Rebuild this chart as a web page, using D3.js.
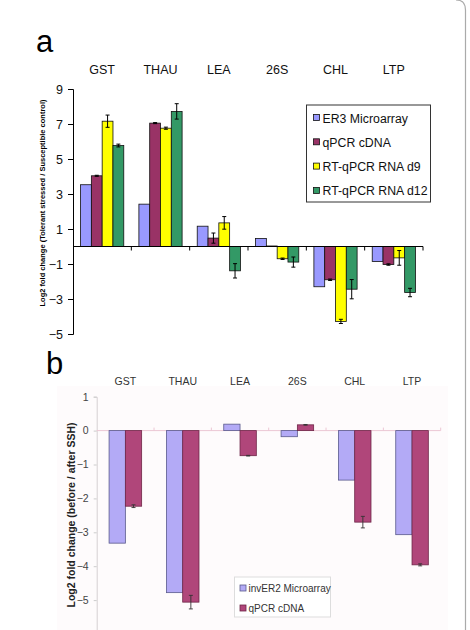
<!DOCTYPE html>
<html>
<head>
<meta charset="utf-8">
<script src="https://cdn.jsdelivr.net/npm/d3@7"></script>
<style>
  body { margin: 0; background: #fff; }
  svg { display: block; font-family: "Liberation Sans", Arial, sans-serif; }
</style>
</head>
<body>
<div id="chart"></div>
<script>
// panel a data
const genesA = ["GST", "THAU", "LEA", "26S", "CHL", "LTP"];
const seriesA = ["ER3 Microarray", "qPCR cDNA", "RT-qPCR RNA d9", "RT-qPCR RNA d12"];
const er3Micro = [3.53, 2.42, 1.16, 0.46, -2.30, -0.86];
const qpcrCdnaA = [4.04, 7.05, 0.48, 0.03, -1.90, -1.03];
const rnaD9 = [7.16, 6.76, 1.35, -0.70, -4.28, -0.65];
const rnaD12 = [5.77, 7.72, -1.39, -0.89, -2.44, -2.63];
const errQpcrA = [0.03, 0.03, 0.29, 0, 0.04, 0.04];
const errD9 = [0.35, 0.06, 0.36, 0.04, 0.12, 0.42];
const errD12 = [0.08, 0.44, 0.41, 0.29, 0.55, 0.24];
const ticksA = [9, 7, 5, 3, 1, -1, -3, -5];

// panel b data
const genesB = ["GST", "THAU", "LEA", "26S", "CHL", "LTP"];
const seriesB = ["invER2 Microarray", "qPCR cDNA"];
const invER2Micro = [-3.32, -4.78, 0.19, -0.18, -1.46, -3.07];
const qpcrCdnaB = [-2.23, -5.06, -0.74, 0.17, -2.70, -3.96];
const errQpcrB = [0.04, 0.2, 0.01, 0.01, 0.17, 0.03];
const ticksB = [1, 0, -1, -2, -3, -4, -5];

const svg = d3.select("#chart").append("svg")
  .attr("width", 470).attr("height", 630);

// figure frame edge on the right
svg.append("path")
  .attr("d", "M456,0 Q465.5,0 465.5,10 V630")
  .attr("fill", "none").attr("stroke", "#aaa").attr("stroke-width", 1.2);

// ---------- panel a ----------
const valsA = [er3Micro, qpcrCdnaA, rnaD9, rnaD12];
const errsA = [null, errQpcrA, errD9, errD12];
const colorsA = ["#9999ff", "#993366", "#ffff00", "#339966"];

const x0a = d3.scaleBand().domain(genesA).range([73, 423]);
const x1a = d3.scaleBand().domain(seriesA).range([0, x0a.bandwidth()]).paddingOuter(0.7);
const ya = d3.scaleLinear().domain([-5, 9]).range([334, 89]);

svg.append("text").attr("x", 36).attr("y", 52)
  .style("font-size", "31px").text("a");

svg.append("g").selectAll("text").data(genesA).join("text")
  .attr("x", d => x0a(d) + x0a.bandwidth() / 2).attr("y", 74)
  .attr("text-anchor", "middle").style("font-size", "12.5px").attr("fill", "#111")
  .text(d => d);

const gA = svg.append("g");
seriesA.forEach((s, si) => {
  gA.append("g").selectAll("rect").data(genesA).join("rect")
    .attr("x", g => x0a(g) + x1a(s))
    .attr("width", x1a.bandwidth())
    .attr("y", (g, i) => ya(Math.max(0, valsA[si][i])))
    .attr("height", (g, i) => Math.abs(ya(valsA[si][i]) - ya(0)))
    .attr("fill", colorsA[si]).attr("stroke", "#111").attr("stroke-width", 0.8);
  if (errsA[si]) {
    genesA.forEach((g, i) => {
      const e = errsA[si][i];
      if (!e) return;
      const cx = x0a(g) + x1a(s) + x1a.bandwidth() / 2;
      const v = valsA[si][i];
      gA.append("path")
        .attr("d", `M${cx - 2},${ya(v + e)}H${cx + 2}M${cx},${ya(v + e)}V${ya(v - e)}M${cx - 2},${ya(v - e)}H${cx + 2}`)
        .attr("stroke", "#000").attr("stroke-width", 1).attr("fill", "none");
    });
  }
});

// y axis a
const axA = svg.append("g").attr("transform", "translate(73,0)")
  .call(d3.axisLeft(ya).tickValues(ticksA).tickSize(5).tickPadding(5).tickFormat(d3.format("d")));
axA.select(".domain").attr("stroke", "#000");
axA.selectAll("line").attr("stroke", "#000");
axA.selectAll("text").style("font-size", "12.5px").attr("fill", "#111").style("font-family", "Liberation Sans, Arial");
// zero line a
svg.append("line").attr("x1", 73).attr("x2", 423).attr("y1", ya(0)).attr("y2", ya(0))
  .attr("stroke", "#000");
svg.append("g").selectAll("line").data(genesA).join("line")
  .attr("x1", d => x0a(d) + x0a.bandwidth()).attr("x2", d => x0a(d) + x0a.bandwidth())
  .attr("y1", ya(0)).attr("y2", ya(0) + 4).attr("stroke", "#000");

svg.append("text")
  .attr("transform", `translate(45,203) rotate(-90)`)
  .attr("text-anchor", "middle").style("font-size", "7.5px").style("font-weight", "bold")
  .text("Log2 fold change (Tolerant stressed / Susceptible control)");

// legend a
const legA = svg.append("g");
legA.append("rect").attr("x", 306.5).attr("y", 105).attr("width", 124).attr("height", 97)
  .attr("fill", "#fff").attr("stroke", "#333").attr("stroke-width", 1);
seriesA.forEach((s, i) => {
  const y = 118 + i * 24.3;
  legA.append("rect").attr("x", 313.5).attr("y", y - 3.5).attr("width", 6).attr("height", 6)
    .attr("fill", colorsA[i]).attr("stroke", "#111").attr("stroke-width", 0.8);
  legA.append("text").attr("x", 322.5).attr("y", y + 4.5)
    .style("font-size", "12.3px").attr("fill", "#111").text(s);
});

// ---------- panel b ----------
const valsB = [invER2Micro, qpcrCdnaB];
const errsB = [null, errQpcrB];
const colorsB = ["#b3aaf6", "#b0467a"];
const strokesB = ["#5a5a8c", "#6e2547"];

svg.append("rect").attr("x", 57).attr("y", 386).attr("width", 391).attr("height", 244)
  .attr("fill", "#fefbfc");

const x0b = d3.scaleBand().domain(genesB).range([96.7, 440.7]);
const x1b = d3.scaleBand().domain(seriesB).range([0, x0b.bandwidth()]).paddingOuter(0.76);
const yb = d3.scaleLinear().domain([-6, 1]).range([634, 396.7]);

svg.append("text").attr("x", 46).attr("y", 374)
  .style("font-size", "31px").text("b");

svg.append("g").selectAll("text").data(genesB).join("text")
  .attr("x", d => x0b(d) + x0b.bandwidth() / 2).attr("y", 385)
  .attr("text-anchor", "middle").style("font-size", "10.5px").attr("fill", "#333")
  .text(d => d);

// y axis b
const axB = svg.append("g").attr("transform", "translate(96.7,0)")
  .call(d3.axisLeft(yb).tickValues(ticksB).tickSize(3).tickPadding(5).tickFormat(d3.format("d")));
axB.select(".domain").attr("stroke", "#d6d0d3");
axB.selectAll("line").attr("stroke", "#ccc");
axB.selectAll("text").style("font-size", "10.5px").attr("fill", "#444").style("font-family", "Liberation Sans, Arial");

// zero line b
svg.append("line").attr("x1", 96.7).attr("x2", 440.7).attr("y1", yb(0)).attr("y2", yb(0))
  .attr("stroke", "#ecc7d4");
svg.append("g").selectAll("line").data(genesB).join("line")
  .attr("x1", d => x0b(d) + x0b.bandwidth()).attr("x2", d => x0b(d) + x0b.bandwidth())
  .attr("y1", yb(0)).attr("y2", yb(0) - 3).attr("stroke", "#ecc7d4");

const gB = svg.append("g");
seriesB.forEach((s, si) => {
  gB.append("g").selectAll("rect").data(genesB).join("rect")
    .attr("x", g => x0b(g) + x1b(s))
    .attr("width", x1b.bandwidth())
    .attr("y", (g, i) => yb(Math.max(0, valsB[si][i])))
    .attr("height", (g, i) => Math.abs(yb(valsB[si][i]) - yb(0)))
    .attr("fill", colorsB[si]).attr("stroke", strokesB[si]).attr("stroke-width", 0.8);
  if (errsB[si]) {
    genesB.forEach((g, i) => {
      const e = errsB[si][i];
      const cx = x0b(g) + x1b(s) + x1b.bandwidth() / 2;
      const v = valsB[si][i];
      gB.append("path")
        .attr("d", `M${cx - 2},${yb(v + e)}H${cx + 2}M${cx},${yb(v + e)}V${yb(v - e)}M${cx - 2},${yb(v - e)}H${cx + 2}`)
        .attr("stroke", "#333").attr("stroke-width", 0.9).attr("fill", "none");
    });
  }
});

svg.append("text")
  .attr("transform", `translate(75,515) rotate(-90)`)
  .attr("text-anchor", "middle").style("font-size", "10.5px").style("font-weight", "bold")
  .attr("fill", "#222")
  .text("Log2 fold change (before / after SSH)");

// legend b
const legB = svg.append("g");
legB.append("rect").attr("x", 234.5).attr("y", 577).attr("width", 96).attr("height", 40)
  .attr("fill", "#fff").attr("stroke", "#ddd").attr("stroke-width", 1);
seriesB.forEach((s, i) => {
  const y = 588 + i * 20;
  legB.append("rect").attr("x", 240).attr("y", y - 3).attr("width", 6).attr("height", 6)
    .attr("fill", colorsB[i]).attr("stroke", strokesB[i]).attr("stroke-width", 0.8);
  legB.append("text").attr("x", 248.5).attr("y", y + 3.8)
    .style("font-size", "10px").attr("fill", "#333").text(s);
});
</script>
</body>
</html>
